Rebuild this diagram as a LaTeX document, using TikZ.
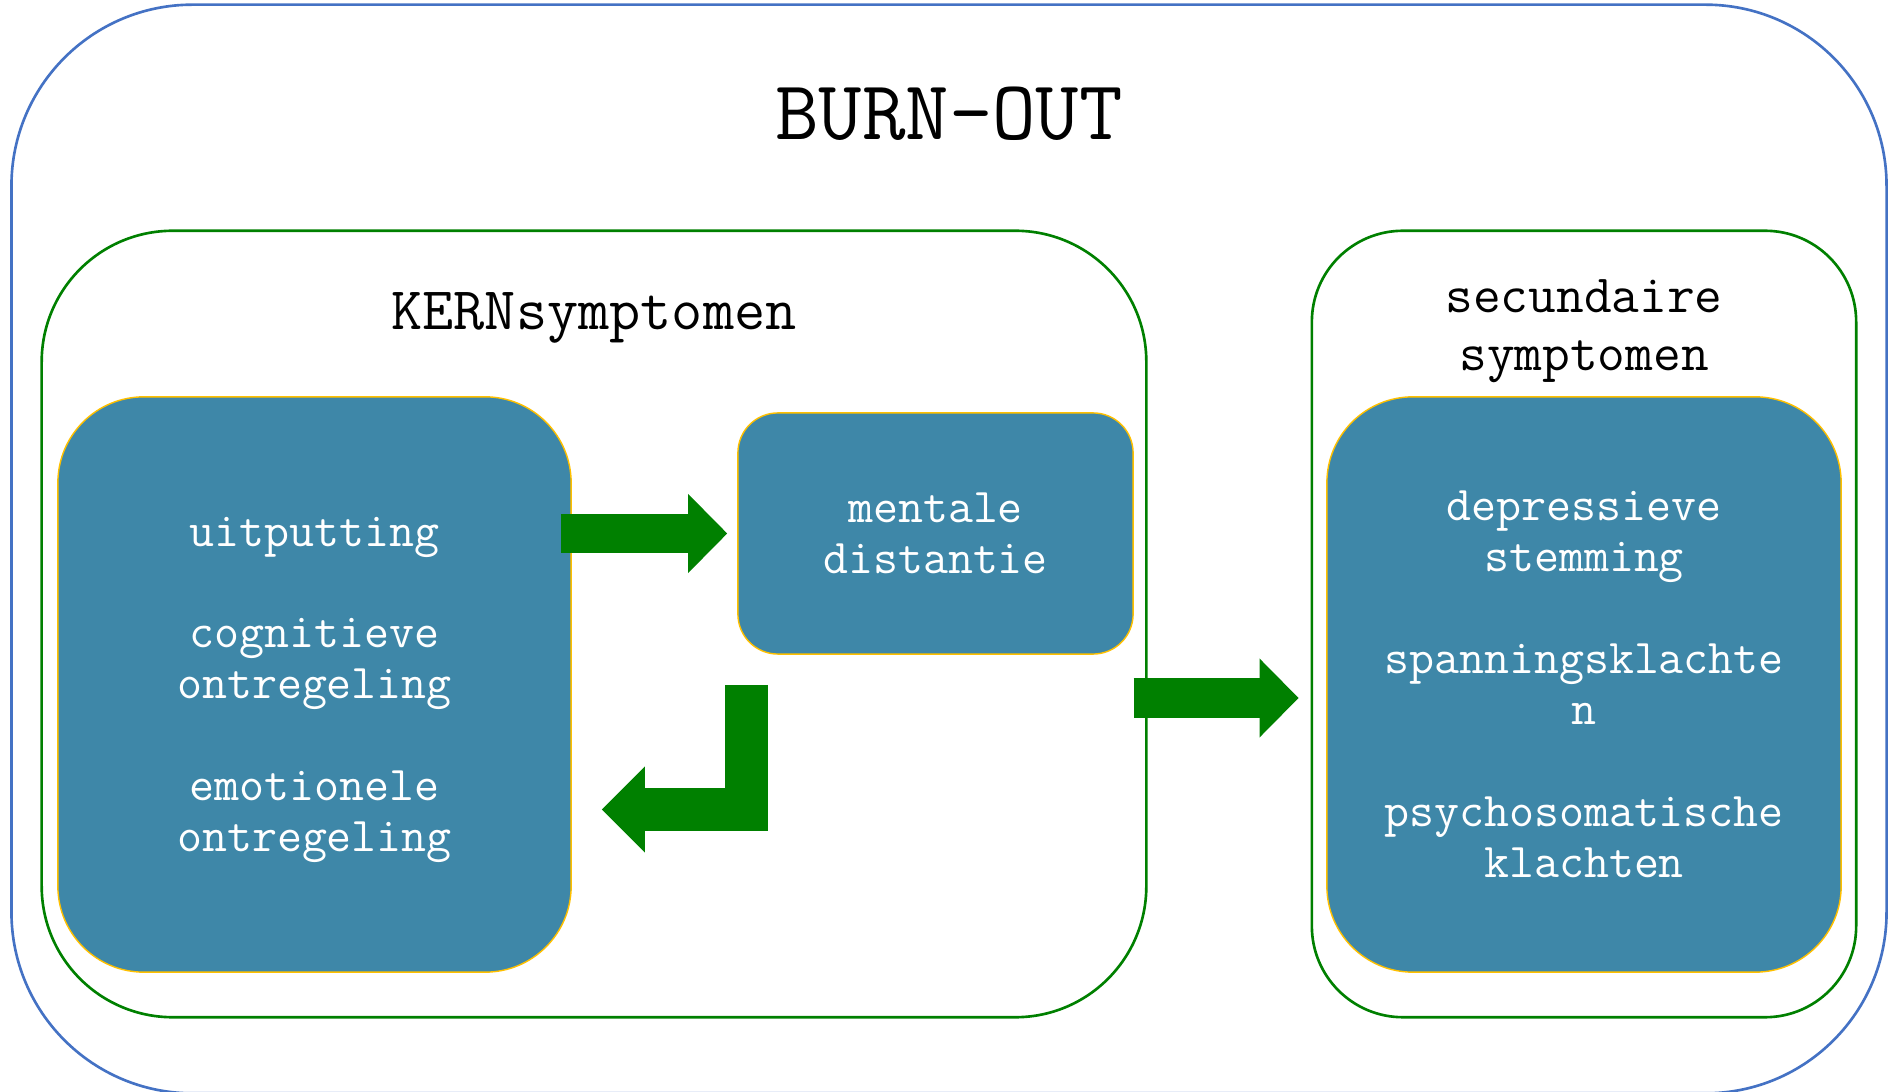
\documentclass[tikz,border=0pt]{standalone}
\usepackage{tikz}
\usetikzlibrary{arrows.meta,calc}

\definecolor{framecol}{RGB}{68,114,196}
\definecolor{grpcol}{RGB}{0,128,0}
\definecolor{blkcol}{RGB}{62,135,168}
\definecolor{rimcol}{RGB}{255,192,0}

\begin{document}
\begin{tikzpicture}[x=0.01cm, y=-0.01cm]
  \tikzstyle{frame}=[draw=framecol, line width=0.75pt, rounded corners=1.81cm]
  \tikzstyle{grp}=[draw=grpcol, line width=0.75pt]
  \tikzstyle{blk}=[draw=rimcol, line width=0.4pt, fill=blkcol, text=white, align=center,
                   font=\ttfamily\fontsize{13.8pt}{14.5pt}\selectfont]
  \tikzstyle{head}=[align=center, font=\ttfamily\fontsize{15.3pt}{16.5pt}\selectfont]
  \tikzstyle{flow}=[draw=grpcol, line width=0.39cm, -{Triangle[width=0.79cm, length=0.39cm, line width=0pt]}]
  \tikzstyle{bentflow}=[draw=grpcol, line width=0.43cm, line join=miter,
                        -{Triangle[width=0.86cm, length=0.43cm, line width=0pt]}]

  \useasboundingbox (0,0) rectangle (1888,1092);

  % frames
  \node[frame, minimum width=18.74cm, minimum height=10.88cm] (burnout) at (949,549) {};
  \node[grp, rounded corners=1.31cm, minimum width=11.04cm, minimum height=7.86cm] (kern) at (594,624) {};
  \node[grp, rounded corners=0.91cm, minimum width=5.44cm, minimum height=7.86cm] (sec) at (1584,624) {};

  % titles
  \node[font=\ttfamily\fontsize{24pt}{28pt}\selectfont] (title) at (949,114) {BURN-OUT};
  \node[head, font=\ttfamily\fontsize{17.2pt}{20pt}\selectfont, anchor=base] (kerntitle) at (594,330) {KERNsymptomen};
  \node[head] (sectitle) at (1584,331) {secundaire\\symptomen};

  % symptom blocks
  \node[blk, rounded corners=0.86cm, minimum width=5.13cm, minimum height=5.75cm] (a) at (314.5,684.5)
    {\rule{0pt}{11.4pt}uitputting\\[14.5pt]cognitieve\\ontregeling\\[14.5pt]emotionele\\ontregeling};
  \node[blk, rounded corners=0.40cm, minimum width=3.95cm, minimum height=2.41cm] (b) at (935.5,533.5)
    {mentale\\distantie};
  \node[blk, rounded corners=0.86cm, minimum width=5.14cm, minimum height=5.75cm] (c) at (1584,684.5)
    {depressieve\\stemming\\[14.5pt]spanningsklachte\\n\\[14.5pt]psychosomatische\\klachten};

  % arrows
  \draw[flow] ($(a.east |- b.west)+(-11,0)$) -- ($(b.west)+(-10,0)$);
  \draw[bentflow] ($(b.south west)+(9.5,30)$) |- ($(a.east)+(30,125)$);
  \draw[flow] ($(kern.east)+(-14,74)$) -- ($(sec.west)+(-12,74)$);
\end{tikzpicture}
\end{document}
